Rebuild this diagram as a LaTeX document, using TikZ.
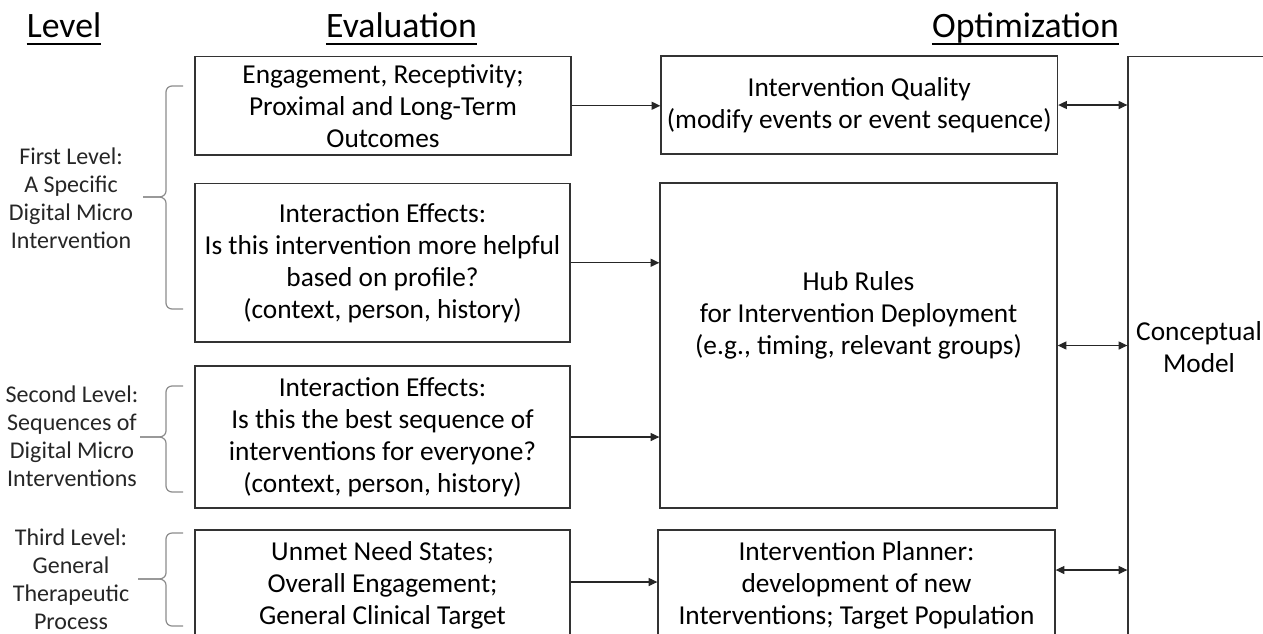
\documentclass[tikz,border=0pt]{standalone}
\usepackage{fontspec}
\setmainfont{Carlito}
\usetikzlibrary{arrows.meta}
\newcommand{\boxfont}{\fontsize{20.5}{24}\selectfont}
\newcommand{\lvlfont}{\fontsize{18}{21}\selectfont}
\newcommand{\hdrfont}{\fontsize{26.8}{30}\selectfont}
\newcommand{\mybrace}[4]{%
  \draw[brc] (183,#1) -- (172,#1) to[out=180,in=90] (166,#1+6) -- (166,#2-6)
    to[out=-90,in=0] (159,#2) -- (#4,#2);
  \draw[brc] (#4,#2) -- (159,#2) to[out=0,in=90] (166,#2+6) -- (166,#3-6)
    to[out=-90,in=180] (172,#3) -- (183,#3);}
\begin{document}
\begin{tikzpicture}[x=0.75pt,y=-0.75pt,
  box/.style={draw=black!80,line width=1pt,inner sep=0pt,align=center,font=\boxfont},
  txt/.style={inner sep=0pt,align=center,font=\boxfont},
  lvl/.style={inner sep=0pt,align=center,font=\lvlfont,text=black!85},
  hdr/.style={inner sep=0pt,font=\hdrfont,anchor=base},
  uline/.style={line width=1.5pt},
  arr/.style={-{Triangle[length=6.5pt,width=6pt]},line width=0.8pt,draw=black!85},
  darr/.style={{Triangle[length=6.5pt,width=6pt]}-{Triangle[length=6.5pt,width=6pt]},line width=0.8pt,draw=black!85},
  brc/.style={draw=black!45,line width=0.9pt}]
\useasboundingbox (0,0) rectangle (1263,633);
\fill[white] (0,0) rectangle (1263,633);
\clip (0,0) rectangle (1263,633);

% headers
\node[hdr] (hlev) at (64,37) {Level};
\node[hdr] (heval) at (401.5,37) {Evaluation};
\node[hdr] (hopt) at (1025.5,37) {Optimization};
\foreach \h in {hlev,heval,hopt}{
  \draw[uline] ([yshift=-5pt]\h.base west) -- ([yshift=-5pt]\h.base east);}

% evaluation boxes
\node[box,minimum width=282pt,minimum height=73.9pt] (e1) at (383,105.75)
  {Engagement, Receptivity;\\Proximal and Long-Term\\Outcomes};
\node[box,minimum width=281.25pt,minimum height=118.9pt] (e2) at (382.5,262.75)
  {Interaction Effects:\\Is this intervention more helpful\\based on profile?\\(context, person, history)};
\node[box,minimum width=281.25pt,minimum height=106.5pt] (e3) at (382.5,437)
  {Interaction Effects:\\Is this the best sequence of\\interventions for everyone?\\(context, person, history)};
\node[box,minimum width=281.25pt,minimum height=82.5pt] (e4) at (382.5,585)
  {Unmet Need States;\\Overall Engagement;\\General Clinical Target};

% optimization boxes
\node[box,minimum width=297.4pt,minimum height=73.5pt] (o1) at (859.25,105)
  {Intervention Quality\\(modify events or event sequence)};
\node[box,minimum width=297.75pt,minimum height=243.75pt] (hub) at (858.5,345.5) {};
\node[txt] (hubt) at (858.5,315)
  {Hub Rules\\for Intervention Deployment\\(e.g., timing, relevant groups)};
\node[box,minimum width=297.75pt,minimum height=82.5pt] (plan) at (856.5,585)
  {Intervention Planner:\\development of new\\Interventions; Target Population};
\node[box,minimum width=129pt,minimum height=452.6pt] (cm) at (1214,358) {};
\node[txt] (cmt) at (1199,347.5) {Conceptual\\Model};

% level labels
\node[lvl] (l1) at (71,198.5) {First Level:\\A Specific\\Digital Micro\\Intervention};
\node[lvl] (l2) at (72,436) {Second Level:\\Sequences of\\Digital Micro\\Interventions};
\node[lvl] (l3) at (71,579) {Third Level:\\General\\Therapeutic\\Process};

% braces
\mybrace{86}{197}{309}{143}
\mybrace{386}{437}{492}{140}
\mybrace{533}{579}{626}{138}

% connectors
\draw[arr] (e1.east) -- (e1.east -| o1.west);
\draw[arr] (e2.east) -- (e2.east -| hub.west);
\draw[arr] (e3.east) -- (e3.east -| hub.west);
\draw[arr] (e4.east |- 0,582) -- (plan.west |- 0,582);
\draw[darr] (o1.east) -- (o1.east -| cm.west);
\draw[darr] (hub.east) -- (hub.east -| cm.west);
\draw[darr] (plan.east |- 0,570) -- (cm.west |- 0,570);
\end{tikzpicture}
\end{document}
